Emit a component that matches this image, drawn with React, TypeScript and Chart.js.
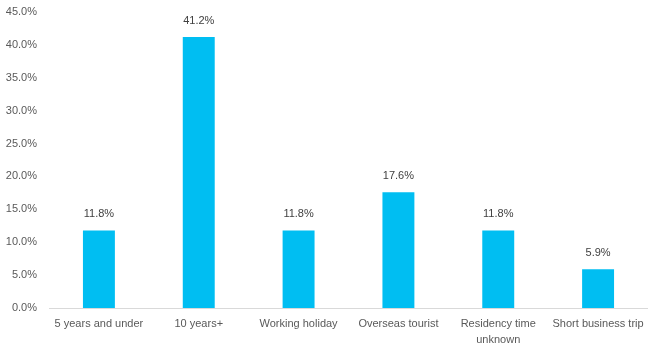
import React, { useEffect, useRef } from "react";
import { Chart, registerables } from "chart.js";

Chart.register(...registerables);

const categories: (string | string[])[] = [
  "5 years and under",
  "10 years+",
  "Working holiday",
  "Overseas tourist",
  ["Residency time", "unknown"],
  "Short business trip",
];
const values = [11.8, 41.2, 11.8, 17.6, 11.8, 5.9];
const yMax = 45;
const yStep = 5;

const FONT = "'Liberation Sans', Arial, sans-serif";

const dataLabelPlugin = {
  id: "dataLabels",
  afterDatasetsDraw(chart: any) {
    const ctx = chart.ctx;
    const meta = chart.getDatasetMeta(0);
    ctx.save();
    ctx.font = `11px ${FONT}`;
    ctx.fillStyle = "#404040";
    ctx.textAlign = "center";
    ctx.textBaseline = "middle";
    meta.data.forEach((bar: any, i: number) => {
      ctx.fillText(values[i].toFixed(1) + "%", bar.x, bar.y - 16);
    });
    ctx.restore();
  },
};

export default function App() {
  const ref = useRef<HTMLCanvasElement | null>(null);
  useEffect(() => {
    if (!ref.current) return;
    const chart = new Chart(ref.current, {
      type: "bar",
      data: {
        labels: categories,
        datasets: [
          {
            data: values,
            backgroundColor: "#00BEF2",
            barPercentage: 0.32,
            categoryPercentage: 1,
          },
        ],
      },
      options: {
        animation: false,
        responsive: false,
        maintainAspectRatio: false,
        layout: { padding: { top: 0, right: 0, left: 0, bottom: 0 } },
        plugins: {
          legend: { display: false },
          tooltip: { enabled: false },
        },
        scales: {
          x: {
            grid: { display: false, drawTicks: false },
            border: { display: true, color: "#d9d9d9", width: 1 },
            ticks: {
              color: "#595959",
              font: { family: FONT, size: 11, lineHeight: 1.45 },
              padding: 8,
              maxRotation: 0,
              autoSkip: false,
            },
            afterFit: (s: any) => {
              s.height = 39;
              s.paddingLeft = 0;
              s.paddingRight = 0;
            },
          },
          y: {
            min: 0,
            max: yMax,
            grid: { display: false, drawTicks: false },
            border: { display: false },
            ticks: {
              stepSize: yStep,
              color: "#595959",
              font: { family: FONT, size: 11 },
              padding: 12,
              callback: (v: any) => Number(v).toFixed(1) + "%",
            },
            afterFit: (s: any) => {
              s.width = 49;
              s.paddingTop = 12;
              s.paddingBottom = 0;
            },
          },
        },
      },
      plugins: [dataLabelPlugin],
    });
    return () => chart.destroy();
  }, []);
  return (
    <div style={{ position: "absolute", left: 0, top: 0, width: 648, height: 347, background: "#fff" }}>
      <canvas ref={ref} width={648} height={347} style={{ display: "block" }} />
    </div>
  );
}
